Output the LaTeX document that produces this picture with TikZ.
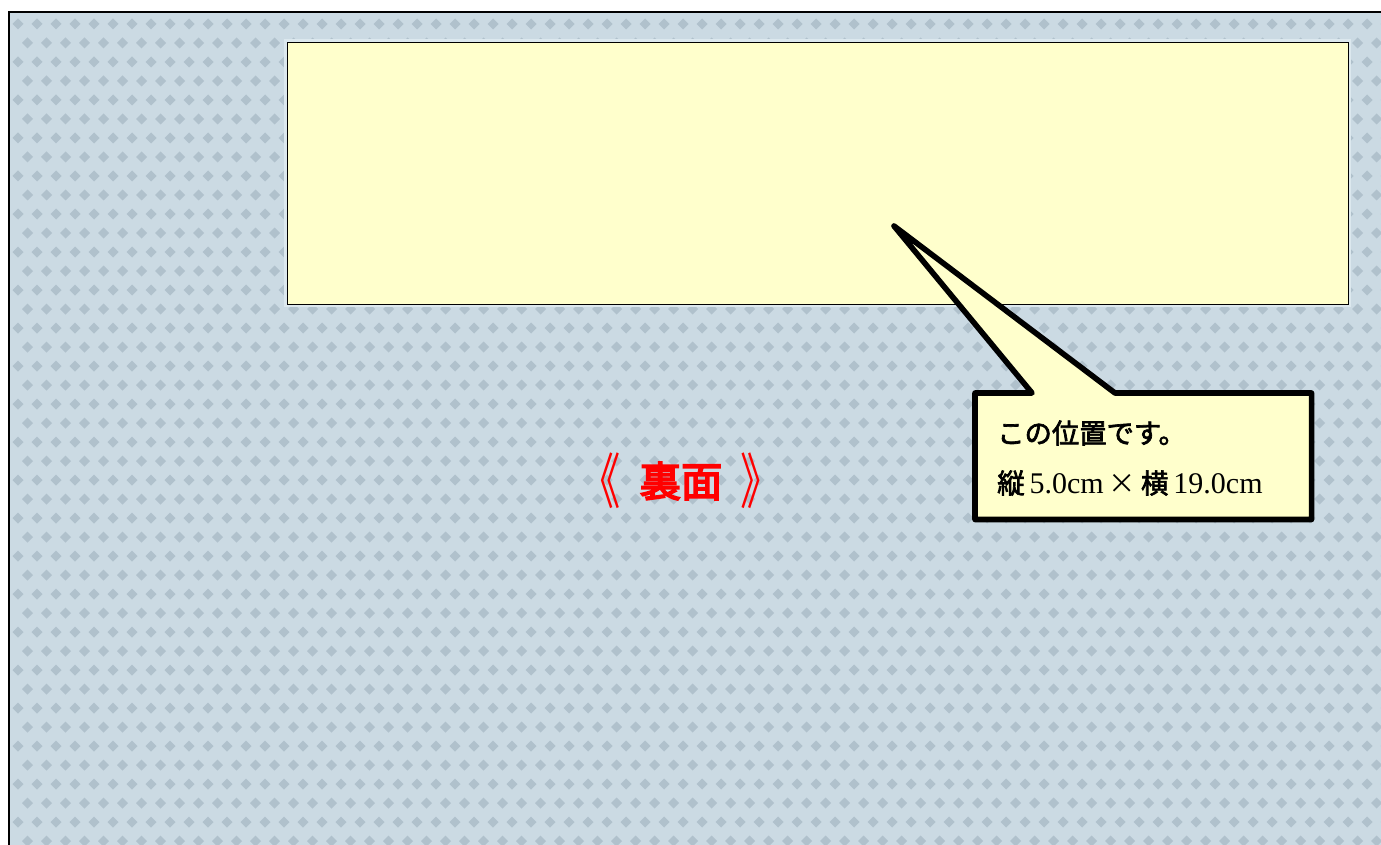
\documentclass[tikz,border=0pt]{standalone}
\usepackage{fontspec}
\setmainfont{Liberation Serif}
\newfontfamily\cjk{Noto Sans CJK JP}
\newfontfamily\cjkheavy[FakeBold=4]{Noto Sans CJK JP}
\newfontfamily\cjkbold[FakeBold=2.5]{Noto Sans CJK JP}
\definecolor{bgblue}{HTML}{CBDAE3}
\definecolor{dotblue}{HTML}{B0C1CC}
\definecolor{lightline}{HTML}{DCE8EE}
\definecolor{paleyellow}{HTML}{FFFFCC}
\definecolor{headred}{HTML}{FF0000}
\tikzset{
  frameline/.style={draw=black, line width=1.6pt},
  pastebox/.style={draw=black, line width=1pt, fill=paleyellow},
  callout/.style={draw=black, line width=4.2pt, fill=paleyellow, line join=round},
  notetext/.style={anchor=west, inner sep=0pt, font=\fontsize{22.5}{26}\selectfont},
  headtext/.style={text=headred, inner sep=0pt, font=\fontsize{31}{34}\selectfont},
}
\newcommand{\jb}[1]{{\fontsize{20.5}{24}\selectfont\cjkbold #1}}
\begin{document}
\begin{tikzpicture}[x=0.75pt, y=-0.75pt]
\useasboundingbox (0,0) rectangle (1381,845);
% background
\fill[white] (0,0) rectangle (1381,845);
\fill[bgblue] (9,12) rectangle (1381,845);
\begin{scope}
\clip (9,12) rectangle (1381,845);
\foreach \j in {0,...,44} {
  \foreach \i in {0,...,72} {
    \pgfmathsetmacro{\xx}{18+\i*19+mod(\j,2)*9.5}
    \pgfmathsetmacro{\yy}{24+\j*19}
    \fill[dotblue] (\xx,\yy-5.5) -- (\xx+5.5,\yy) -- (\xx,\yy+5.5) -- (\xx-5.5,\yy) -- cycle;
  }
}
\end{scope}
\draw[frameline] (1381,12) -- (9,12) -- (9,845);
% glow around paste area
\draw[lightline, line width=5pt] (287,42) rectangle (1348,304);
% paste area
\node[pastebox, minimum width=1061*0.75pt, minimum height=262*0.75pt, inner sep=0pt, anchor=north west] (area) at (287,42) {};
% callout
\coordinate (tip) at (894,226);
\node[inner sep=0pt, minimum width=336*0.75pt, minimum height=126*0.75pt, anchor=north west] (note) at (975,393) {};
\draw[callout] (note.north west) -- (1032,393) -- (tip) -- (1115,393) -- (note.north east) -- (note.south east) -- (note.south west) -- cycle;
\node[notetext] (l1) at (997,433) {\jb{この位置です。}};
\node[notetext] (l2) at (997,483) {\jb{縦}\,5.0cm\,{\fontsize{20.5}{24}\selectfont\cjk ×}\,\jb{横}\,19.0cm};
% heading
\node[headtext, yscale=1.45, transform shape] (lb) at (600,481) {\cjk 《};
\node[headtext] (hd) at (681,481) {\cjkheavy 裏面};
\node[headtext, yscale=1.45, transform shape] (rb) at (761,481) {\cjk 》};
\end{tikzpicture}
\end{document}
